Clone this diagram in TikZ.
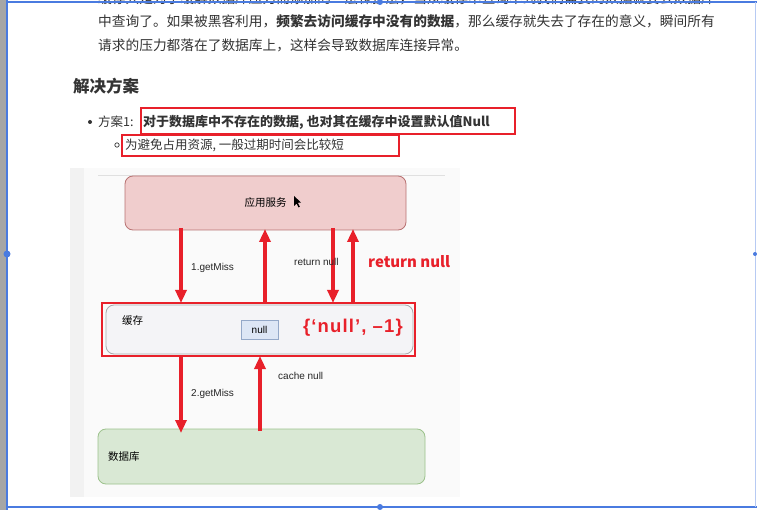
\documentclass[tikz,border=0pt]{standalone}
\usepackage{fontspec}
\setmainfont{Noto Sans CJK SC}
\newfontfamily\cjk{Noto Sans CJK SC}
\newfontfamily\latin{Liberation Sans}
\newfontfamily\latinwide[LetterSpace=6]{Liberation Sans}
\usetikzlibrary{arrows.meta}
\definecolor{txt}{HTML}{333333}
\definecolor{hl}{HTML}{E8202A}
\definecolor{frameblue}{HTML}{4A7BE0}
\definecolor{appfill}{HTML}{F0CDCD}
\definecolor{appdraw}{HTML}{B87272}
\definecolor{dbfill}{HTML}{D9E8D4}
\definecolor{dbdraw}{HTML}{9CC28C}
\definecolor{nullfill}{HTML}{DDE6F5}
\definecolor{nulldraw}{HTML}{94A8C8}
\definecolor{cachefill}{HTML}{F4F4F7}
\definecolor{cachedraw}{HTML}{A8A8AC}
\tikzset{
  redarrow/.style={draw=hl, line width=3.2pt, -{Triangle[length=13pt,width=11pt]}},
  redbox/.style={draw=hl, line width=2.6pt},
  para/.style={anchor=west, text=txt, font=\cjk\fontsize{13.7}{15}\selectfont, inner sep=0pt},
  dlabel/.style={anchor=west, text=black!85, font=\latin\fontsize{10}{12}\selectfont, inner sep=0pt},
  dbox/.style={rounded corners=8pt, line width=0.8pt},
}
\begin{document}
\begin{tikzpicture}[x=1pt,y=-1pt]
\useasboundingbox (0,0) rectangle (757,510);
\fill[white] (0,0) rectangle (757,510);
\fill[gray!70] (0,0) rectangle (6,510);
\begin{scope}
\clip (0,0) rectangle (757,510);
% paragraph
\node[para] (l1) at (98,-2) {缓存只是为了缓解数据库压力而添加的一层保护层，当从缓存中查询不到我们需要的数据就要去数据库};
\end{scope}
\node[para] (l2) at (98,21.5) {中查询了。如果被黑客利用，{\bfseries 频繁去访问缓存中没有的数据}，那么缓存就失去了存在的意义，瞬间所有};
\node[para] (l3) at (98,45) {请求的压力都落在了数据库上，这样会导致数据库连接异常。};
% heading
\node[anchor=west, text=txt, font=\cjk\bfseries\fontsize{16.5}{18}\selectfont, inner sep=0pt] (h) at (73,86) {解决方案};
% bullets
\fill[txt] (90,122) circle (2pt);
\node[anchor=west, text=txt, font=\cjk\fontsize{12.5}{14}\selectfont, inner sep=0pt] (p1) at (98,122) {方案1:};
\node[anchor=west, text=txt, font=\cjk\bfseries\fontsize{13}{14}\selectfont, inner sep=0pt] (b1) at (143,122) {对于数据库中不存在的数据, 也对其在缓存中设置默认值Null};
\draw[redbox] (141,108) rectangle (515,134);
\draw[txt, line width=0.7pt] (117,145) circle (2.2pt);
\node[anchor=west, text=txt, font=\cjk\fontsize{12.5}{14}\selectfont, inner sep=0pt] (b2) at (125,145) {为避免占用资源, 一般过期时间会比较短};
\draw[redbox] (122,135) rectangle (399,156);
% diagram background
\fill[black!2] (70,168) rectangle (460,497);
\fill[black!5] (70,168) rectangle (84,497);
\draw[black!12, line width=0.6pt] (98,175) -- (445,175);
% boxes
\node[dbox, draw=appdraw, fill=appfill, minimum width=281pt, minimum height=54pt, font=\cjk\fontsize{10.5}{12}\selectfont] (app) at (265.5,203) {应用服务};
\node[dbox, draw=cachedraw, fill=cachefill, minimum width=307pt, minimum height=49pt] (cache) at (259.5,329.5) {};
\node[anchor=west, font=\cjk\fontsize{10.5}{12}\selectfont, inner sep=0pt] (ct) at (122,321) {缓存};
\node[draw=nulldraw, fill=nullfill, minimum width=37pt, minimum height=19pt, inner sep=0pt, font=\latin\fontsize{10}{12}\selectfont] (nullbox) at (259.5,329.5) {null};
\node[dbox, draw=dbdraw, fill=dbfill, minimum width=327pt, minimum height=55pt] (db) at (261.5,456.5) {};
\node[anchor=west, font=\cjk\fontsize{10.5}{12}\selectfont, inner sep=0pt] (dt) at (108,457) {数据库};
\draw[redbox] (102,303) rectangle (415,356);
% cursor
\fill[black] (294,196) -- (294,206) -- (296.5,203.5) -- (298.5,207.5) -- (299.8,206.8) -- (297.8,202.8) -- (301,202.5) -- cycle;
% arrows
\coordinate (a1s) at (181,228); \coordinate (a1e) at (181,303);
\coordinate (a2s) at (265,303); \coordinate (a2e) at (265,229);
\coordinate (a3s) at (333,228); \coordinate (a3e) at (333,303);
\coordinate (a4s) at (353,303); \coordinate (a4e) at (353,229);
\coordinate (a5s) at (181,356); \coordinate (a5e) at (181,433);
\coordinate (a6s) at (260,431); \coordinate (a6e) at (260,356);
\draw[redarrow] (a1s) -- (a1e);
\draw[redarrow] (a2s) -- (a2e);
\draw[redarrow] (a3s) -- (a3e);
\draw[redarrow] (a4s) -- (a4e);
\draw[redarrow] (a5s) -- (a5e);
\draw[redarrow] (a6s) -- (a6e);
% labels
\node[dlabel] (lb1) at (191,268) {1.getMiss};
\node[dlabel] (lb2) at (294,262) {return null};
\node[anchor=west, text=hl, font=\cjk\bfseries\fontsize{15}{17}\selectfont, inner sep=0pt] (lb3) at (368,262) {return null};
\node[anchor=west, text=hl, font=\latinwide\bfseries\fontsize{18.5}{20}\selectfont, inner sep=0pt] (lb4) at (303,328) {\{‘null’, –1\}};
\node[dlabel] (lb5) at (191,394) {2.getMiss};
\node[dlabel] (lb6) at (278,376) {cache null};
% blue frame
\draw[frameblue, line width=1.5pt] (7,0) -- (7,510);
\draw[frameblue, line width=1.5pt] (7,2) -- (757,2);
\draw[frameblue, line width=1.5pt] (7,507) -- (757,507);
\draw[frameblue!40, line width=0.8pt] (755,2) -- (755,507);
\fill[frameblue] (7,254) circle (3.5pt);
\fill[frameblue] (380,2) circle (3pt);
\fill[frameblue] (380,507) circle (3pt);
\fill[frameblue] (755,254) circle (2pt);
\end{tikzpicture}
\end{document}
